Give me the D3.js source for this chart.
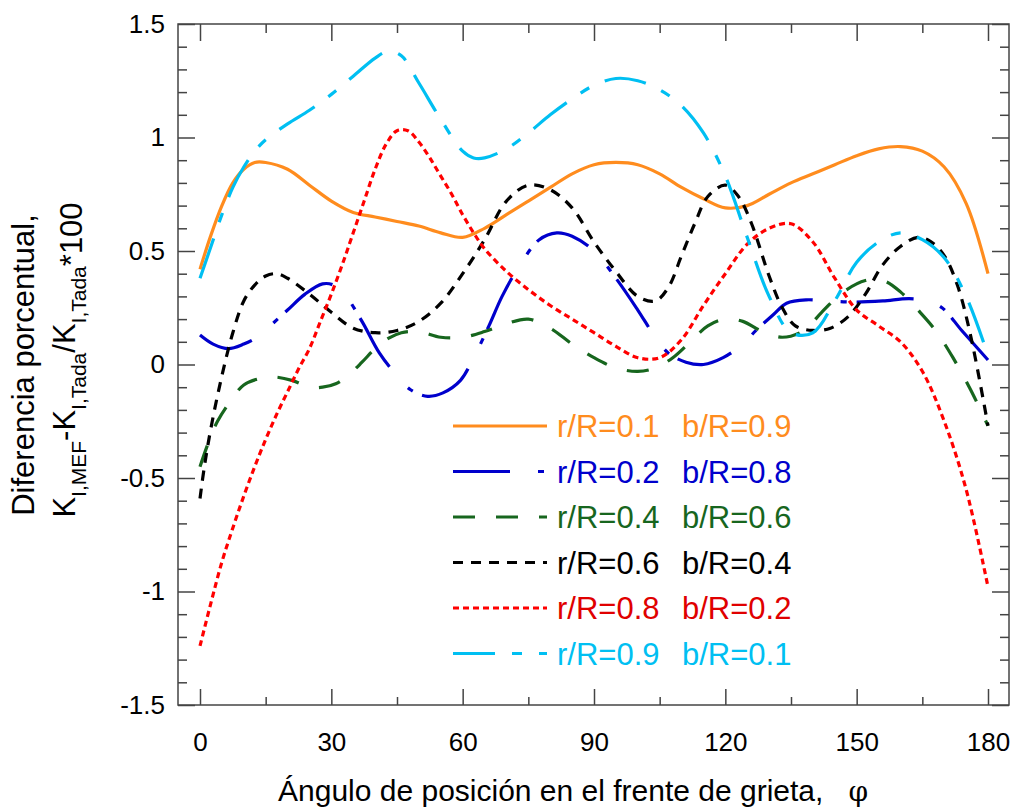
<!DOCTYPE html>
<html>
<head>
<meta charset="utf-8">
<script src="https://cdn.jsdelivr.net/npm/d3@7"></script>
<style>
  body { margin: 0; background: #fff; }
  svg { display: block; font-family: "Liberation Sans", Arial, sans-serif; }
</style>
</head>
<body>
<svg id="chart" width="1015" height="807"></svg>
<script>
// series: [angle, diferencia %]
const r01 = [[0,0.42],[2.5,0.57],[5,0.70],[7.5,0.80],[10,0.86],[12.5,0.89],[15,0.89],[20,0.86],[25,0.79],[30,0.72],[35,0.67],[40,0.65],[45,0.63],[50,0.61],[55,0.58],[60,0.56],[65,0.60],[70,0.66],[75,0.72],[80,0.78],[85,0.84],[90,0.88],[95,0.89],[100,0.88],[105,0.84],[110,0.78],[115,0.73],[120,0.69],[125,0.70],[130,0.75],[135,0.80],[140,0.84],[145,0.88],[150,0.92],[155,0.95],[160,0.96],[165,0.94],[170,0.87],[175,0.71],[180,0.40]];
const r02 = [[0,0.13],[3,0.09],[6.5,0.07],[10,0.09],[13,0.12],[16,0.17],[20,0.24],[24,0.31],[28,0.355],[30.5,0.35],[33,0.31],[37,0.19],[41,0.05],[45,-0.05],[48,-0.11],[52,-0.14],[55.5,-0.125],[59.5,-0.07],[62.5,0.03],[66,0.17],[69,0.30],[72.5,0.42],[77.5,0.55],[81.5,0.58],[85,0.565],[90,0.50],[95,0.38],[100,0.24],[104,0.12],[107,0.05],[111,0.01],[115,0.00],[119.5,0.03],[124,0.09],[127,0.15],[131,0.22],[134,0.27],[138.5,0.285],[143,0.28],[150,0.275],[156,0.28],[162,0.29],[166,0.28],[169.5,0.25],[174,0.15],[180,0.02]];
const r04 = [[0,-0.45],[2,-0.34],[4,-0.25],[7,-0.16],[10,-0.09],[14,-0.06],[17,-0.055],[21,-0.07],[25,-0.10],[28,-0.10],[31,-0.085],[34,-0.045],[37,0.01],[40,0.07],[43,0.115],[46,0.14],[50,0.145],[55,0.12],[60,0.12],[65,0.145],[70,0.18],[75,0.20],[80,0.16],[85,0.09],[90,0.03],[95,-0.015],[100,-0.03],[104,-0.015],[108,0.03],[112,0.10],[116,0.17],[120,0.20],[124,0.19],[128,0.15],[133,0.12],[138,0.15],[142,0.23],[147,0.32],[152,0.37],[156,0.37],[160,0.32],[164,0.24],[168,0.15],[172,0.03],[176,-0.11],[180,-0.27]];
const r06 = [[0,-0.59],[1,-0.45],[2.5,-0.28],[5,-0.05],[7.5,0.14],[10,0.28],[12.5,0.35],[15,0.39],[17.5,0.40],[20,0.38],[25,0.31],[30,0.23],[35,0.16],[40,0.14],[45,0.15],[50,0.19],[55,0.27],[60,0.40],[65,0.55],[70,0.72],[75,0.79],[80,0.77],[85,0.69],[90,0.54],[95,0.41],[100,0.30],[104,0.28],[107,0.34],[110,0.48],[113,0.62],[116,0.74],[120,0.79],[123,0.74],[126,0.62],[130,0.39],[133,0.25],[136,0.17],[140,0.15],[144,0.16],[148,0.21],[152,0.31],[156,0.44],[160,0.52],[164,0.56],[167,0.54],[170,0.48],[173,0.35],[176,0.13],[180,-0.27]];
const r08 = [[0,-1.24],[2.5,-1.05],[5,-0.87],[7.5,-0.72],[10,-0.58],[12.5,-0.45],[15,-0.33],[17.5,-0.22],[20,-0.12],[22.5,-0.02],[25,0.07],[27.5,0.19],[30,0.31],[32.5,0.44],[35,0.58],[37.5,0.72],[40,0.86],[42.5,0.97],[45,1.03],[47.5,1.03],[50,0.98],[52.5,0.91],[55,0.83],[57.5,0.75],[60,0.66],[62.5,0.58],[65,0.51],[70,0.41],[75,0.33],[80,0.26],[85,0.20],[90,0.14],[95,0.08],[100,0.03],[105,0.03],[110,0.11],[115,0.26],[120,0.40],[125,0.53],[130,0.60],[135,0.62],[140,0.54],[145,0.38],[150,0.24],[155,0.17],[160,0.10],[165,-0.03],[170,-0.25],[175,-0.55],[180,-0.98]];
const r09 = [[0,0.38],[2.5,0.52],[5,0.66],[7.5,0.78],[10,0.87],[12.5,0.94],[15,0.99],[20,1.06],[25,1.12],[30,1.19],[35,1.27],[40,1.35],[43,1.38],[46,1.36],[50,1.24],[55,1.08],[60,0.94],[62.5,0.91],[65,0.91],[70,0.95],[75,1.02],[80,1.10],[85,1.17],[90,1.23],[95,1.26],[100,1.25],[105,1.21],[110,1.14],[115,1.02],[120,0.83],[125,0.56],[130,0.30],[135,0.14],[140,0.14],[145,0.28],[150,0.45],[155,0.54],[160,0.58],[165,0.55],[170,0.47],[175,0.30],[180,0.04]];

const seriesData = [r01, r02, r04, r06, r08, r09];
const labelsR = ["r/R=0.1", "r/R=0.2", "r/R=0.4", "r/R=0.6", "r/R=0.8", "r/R=0.9"];
const labelsB = ["b/R=0.9", "b/R=0.8", "b/R=0.6", "b/R=0.4", "b/R=0.2", "b/R=0.1"];
const colors = ["#ff8c1e", "#0000cc", "#17661e", "#000000", "#ff0000", "#00bff2"];
const textColors = ["#ff8c1e", "#0000cc", "#17661e", "#000000", "#e00000", "#00bff2"];
const dashes = [null, "57,28,6,10", "22,21", "10,8", "6,4", "42,17,10,17"];
const xTicks = [0, 30, 60, 90, 120, 150, 180];
const yTicks = [-1.5, -1, -0.5, 0, 0.5, 1, 1.5];

const svg = d3.select("#chart");
const pLeft = 178, pRight = 1009, pTop = 24, pBottom = 705;

const x = d3.scaleLinear().domain([0, 180]).range([200, 988]);
const y = d3.scaleLinear().domain([-1.5, 1.5]).range([pBottom, pTop]);

svg.append("rect").attr("width", 1015).attr("height", 807).attr("fill", "#fff");

// minor ticks
const minorX = d3.range(15, 180, 30);
const minorY = d3.range(-15, 16).map(d => d / 10).filter(d => Math.abs(d * 2 - Math.round(d * 2)) > 1e-6);

function tickStyle(g) {
  g.select(".domain").remove();
  g.selectAll(".tick line").attr("stroke", "#444").attr("stroke-width", 1.5);
  g.selectAll("text").attr("fill", "#000").style("font-size", "26px")
    .style("font-family", '"Liberation Sans", Arial, sans-serif');
}

svg.append("g").attr("transform", `translate(0,${pBottom})`)
  .call(d3.axisBottom(x).tickValues(xTicks).tickSizeInner(-16).tickSizeOuter(0).tickPadding(28).tickFormat(d3.format("d")))
  .call(tickStyle);
svg.append("g").attr("transform", `translate(0,${pBottom})`)
  .call(d3.axisBottom(x).tickValues(minorX).tickSizeInner(-8).tickSizeOuter(0).tickFormat(""))
  .call(tickStyle);
svg.append("g").attr("transform", `translate(0,${pTop})`)
  .call(d3.axisTop(x).tickValues(xTicks).tickSizeInner(-17).tickSizeOuter(0).tickFormat(""))
  .call(tickStyle);
svg.append("g").attr("transform", `translate(0,${pTop})`)
  .call(d3.axisTop(x).tickValues(minorX).tickSizeInner(-9).tickSizeOuter(0).tickFormat(""))
  .call(tickStyle);

svg.append("g").attr("transform", `translate(${pLeft},0)`)
  .call(d3.axisLeft(y).tickValues(yTicks).tickSizeInner(-17).tickSizeOuter(0).tickPadding(13).tickFormat(d => String(d)))
  .call(tickStyle);
svg.append("g").attr("transform", `translate(${pLeft},0)`)
  .call(d3.axisLeft(y).tickValues(minorY).tickSizeInner(-9).tickSizeOuter(0).tickFormat(""))
  .call(tickStyle);
svg.append("g").attr("transform", `translate(${pRight},0)`)
  .call(d3.axisRight(y).tickValues(yTicks).tickSizeInner(-17).tickSizeOuter(0).tickFormat(""))
  .call(tickStyle);
svg.append("g").attr("transform", `translate(${pRight},0)`)
  .call(d3.axisRight(y).tickValues(minorY).tickSizeInner(-9).tickSizeOuter(0).tickFormat(""))
  .call(tickStyle);

svg.append("rect")
  .attr("x", pLeft).attr("y", pTop).attr("width", pRight - pLeft).attr("height", pBottom - pTop)
  .attr("fill", "none").attr("stroke", "#444").attr("stroke-width", 1.5);

// curves
const line = d3.line()
  .x(d => x(d[0]))
  .y(d => y(d[1]))
  .curve(d3.curveCatmullRom.alpha(0.5));

seriesData.forEach((s, i) => {
  svg.append("path")
    .datum(s)
    .attr("d", line)
    .attr("fill", "none")
    .attr("stroke", colors[i])
    .attr("stroke-width", 3.2)
    .attr("stroke-dasharray", dashes[i]);
});

// legend
const legend = svg.append("g");
labelsR.forEach((lab, i) => {
  const ly = 426 + i * 45.5;
  legend.append("line")
    .attr("x1", 453).attr("x2", 547).attr("y1", ly).attr("y2", ly)
    .attr("stroke", colors[i]).attr("stroke-width", 3.2)
    .attr("stroke-dasharray", dashes[i]);
  legend.append("text").attr("x", 557).attr("y", ly).attr("dy", "0.36em")
    .attr("fill", textColors[i]).style("font-size", "31px").text(lab);
  legend.append("text").attr("x", 682).attr("y", ly).attr("dy", "0.36em")
    .attr("fill", textColors[i]).style("font-size", "31px").text(labelsB[i]);
});

// x title
const xt = svg.append("text")
  .attr("x", 278).attr("y", 801)
  .style("font-size", "30px").style("white-space", "pre").attr("fill", "#000");
xt.append("tspan").text("Ángulo de posición en el frente de grieta,   ");
xt.append("tspan").style("font-family", '"DejaVu Serif", serif').style("font-size", "28px").text("φ");

// y title
svg.append("text")
  .attr("transform", "rotate(-90)")
  .attr("x", -365).attr("y", 34)
  .attr("text-anchor", "middle")
  .style("font-size", "31px").attr("fill", "#000")
  .text("Diferencia porcentual,");

const yt = svg.append("text")
  .attr("transform", "rotate(-90)")
  .attr("x", -360).attr("y", 75)
  .attr("text-anchor", "middle")
  .style("font-size", "31px").attr("fill", "#000");
yt.append("tspan").text("K");
yt.append("tspan").attr("dy", 11).style("font-size", "21px").text("I,MEF");
yt.append("tspan").attr("dy", -11).text("-K");
yt.append("tspan").attr("dy", 11).style("font-size", "21px").text("I,Tada");
yt.append("tspan").attr("dy", -11).text("/K");
yt.append("tspan").attr("dy", 11).style("font-size", "21px").text("I,Tada");
yt.append("tspan").attr("dy", -4).text("*100");
</script>
</body>
</html>
